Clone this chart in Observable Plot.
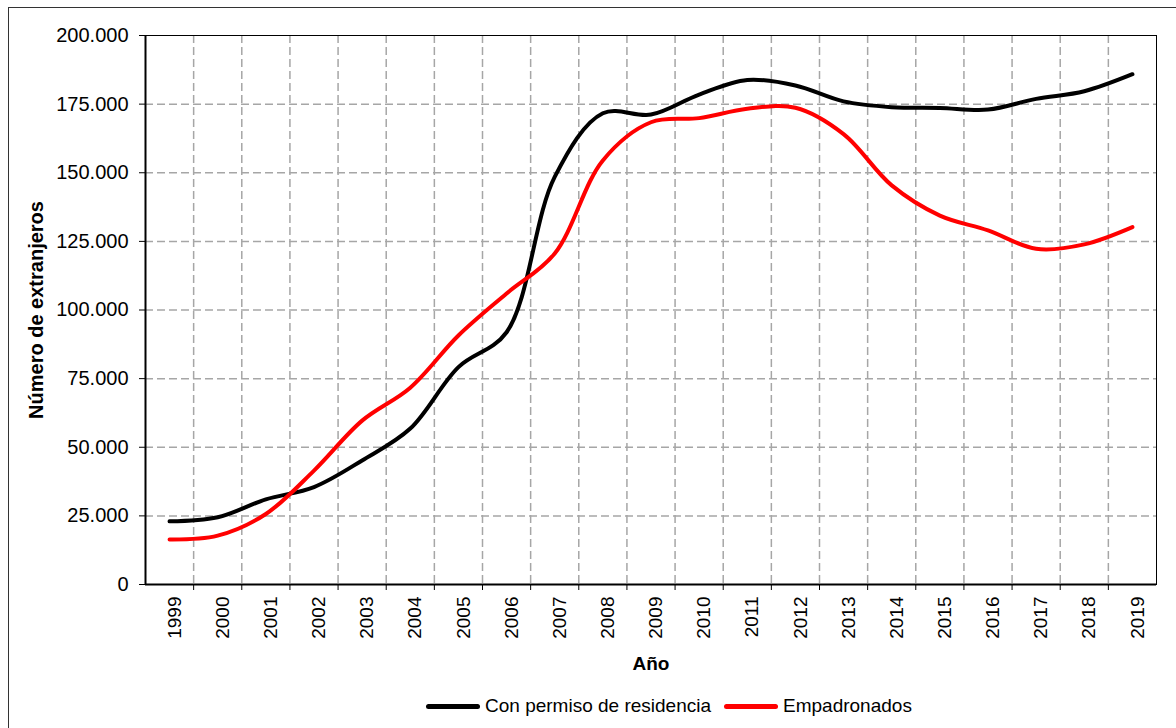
<!DOCTYPE html>
<html>
<head>
<meta charset="utf-8">
<script src="https://cdn.jsdelivr.net/npm/d3@7"></script>
<script src="https://cdn.jsdelivr.net/npm/@observablehq/plot@0.6"></script>
<style>
  body { margin: 0; background: #fff; font-family: "Liberation Sans", Arial, sans-serif; }
  #wrap { position: relative; width: 1176px; height: 728px; overflow: hidden; background: #fff; }
  #frame { position: absolute; left: 8px; top: 7px; width: 1300px; height: 900px; border-left: 1.5px solid #333; border-top: 1.5px solid #333; }
  #chart { position: absolute; left: 0; top: 0; }
  #legend { position: absolute; top: 694px; left: 426px; height: 24px; display: flex; align-items: center; font-size: 19px; color: #000; white-space: nowrap; }
  .item { display: flex; align-items: center; }
  .sw { width: 54px; height: 5px; border-radius: 2.5px; margin-right: 5px; }
  .item + .item { margin-left: 13px; }
  g[aria-label="y-axis tick label"] { font-size: 20px; }
  g[aria-label="x-axis tick label"] { font-size: 19px; }
  g[aria-label="y-axis label"] { font-weight: bold; font-size: 20px; }
  g[aria-label="x-axis label"] { font-weight: bold; font-size: 19px; }
</style>
</head>
<body>
<div id="wrap">
  <div id="frame"></div>
  <div id="chart"></div>
  <div id="legend"></div>
</div>
<script>
const years = [1999, 2000, 2001, 2002, 2003, 2004, 2005, 2006, 2007, 2008, 2009, 2010, 2011, 2012, 2013, 2014, 2015, 2016, 2017, 2018, 2019];
const permiso = [23000, 24500, 31000, 35500, 45200, 56800, 79200, 91900, 148500, 171700, 171200, 178500, 183800, 181800, 176000, 173900, 173600, 173000, 176900, 179700, 185900];
const empadronados = [16400, 17800, 25700, 41500, 59700, 71700, 90700, 106000, 120600, 154500, 168400, 169900, 173300, 173700, 164100, 145400, 134400, 129000, 122300, 123900, 130200];
const yTicks = [0, 25000, 50000, 75000, 100000, 125000, 150000, 175000, 200000];
const seriesNames = ["Con permiso de residencia", "Empadronados"];
const seriesColors = ["#000000", "#ff0000"];

const fmt = d3.formatLocale({decimal: ",", thousands: ".", grouping: [3], currency: ["", "€"]}).format(",d");
const data = years.map((y, i) => ({year: y, permiso: permiso[i], empadronados: empadronados[i]}));
const bounds = years.slice(0, -1).map(y => y + 0.5);

const chart = Plot.plot({
  width: 1176,
  height: 690,
  marginLeft: 145,
  marginRight: 20,
  marginTop: 35,
  marginBottom: 106,
  style: {fontFamily: "'Liberation Sans', Arial, sans-serif", fontSize: "18px", color: "#000", background: "transparent"},
  x: {type: "linear", domain: [years[0] - 0.5, years[years.length - 1] + 0.5]},
  y: {domain: [0, 200000]},
  marks: [
    Plot.ruleX(bounds, {stroke: "#a6a6a6", strokeWidth: 1.5, strokeDasharray: "8,4"}),
    Plot.ruleY(yTicks.slice(1, -1), {stroke: "#a6a6a6", strokeWidth: 1.5, strokeDasharray: "8,4"}),
    Plot.frame({stroke: "#000", strokeWidth: 1}),
    Plot.ruleX([years[0] - 0.5], {stroke: "#000", strokeWidth: 2}),
    Plot.ruleY([0], {stroke: "#000", strokeWidth: 2}),
    Plot.axisX(bounds, {tickSize: 6, tickFormat: () => "", label: null}),
    Plot.axisX(years, {tickSize: 0, tickPadding: 12, tickRotate: -90, tickFormat: d => String(d), label: "Año", labelAnchor: "center", labelOffset: 85, labelArrow: "none", dx: 5}),
    Plot.axisY(yTicks, {tickSize: 6, tickPadding: 11, tickFormat: fmt, label: "Número de extranjeros", labelAnchor: "center", labelOffset: 117, labelArrow: "none"}),
    Plot.line(data, {x: "year", y: "permiso", stroke: seriesColors[0], strokeWidth: 4, curve: "catmull-rom"}),
    Plot.line(data, {x: "year", y: "empadronados", stroke: seriesColors[1], strokeWidth: 4, curve: "catmull-rom"})
  ]
});
document.getElementById("chart").appendChild(chart);

const legend = document.getElementById("legend");
seriesNames.forEach((name, i) => {
  const item = document.createElement("div");
  item.className = "item";
  const sw = document.createElement("span");
  sw.className = "sw";
  sw.style.background = seriesColors[i];
  const t = document.createElement("span");
  t.textContent = name;
  item.appendChild(sw);
  item.appendChild(t);
  legend.appendChild(item);
});
</script>
</body>
</html>
